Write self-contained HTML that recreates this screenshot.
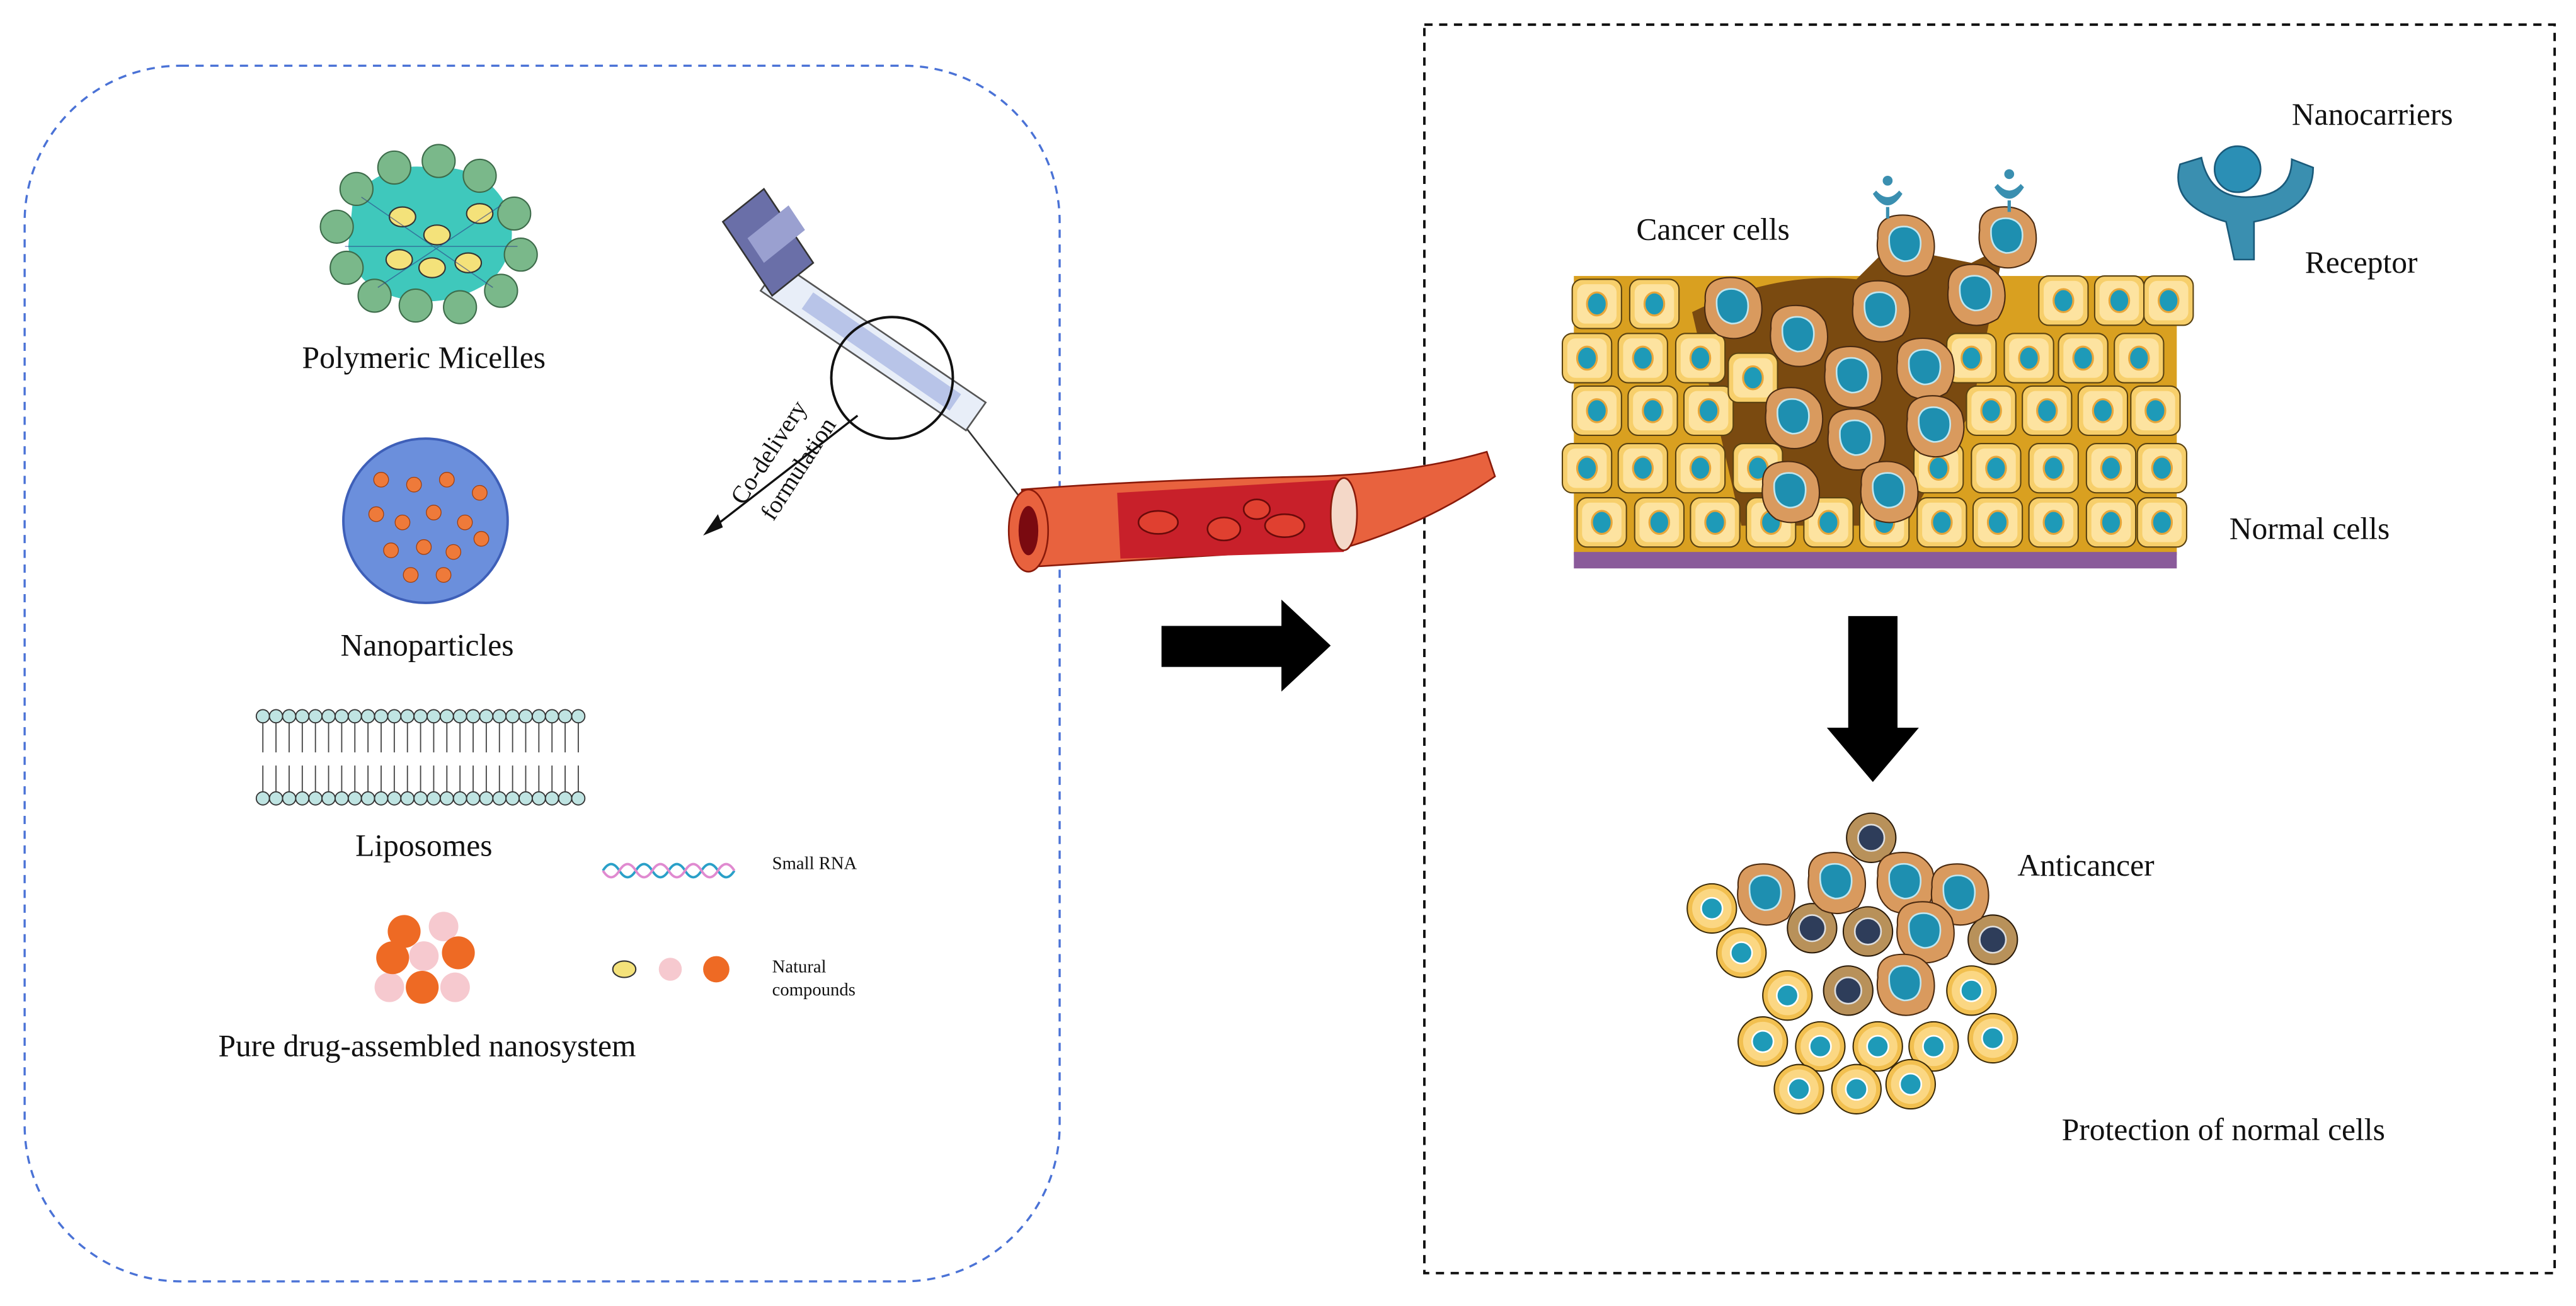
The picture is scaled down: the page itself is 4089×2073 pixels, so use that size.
<!DOCTYPE html>
<html><head><meta charset="utf-8"><style>
html,body{margin:0;padding:0;background:#fff;}
svg{display:block}
text{font-family:"Liberation Serif",serif;fill:#111}
</style></head><body>
<svg width="4089" height="2073" viewBox="0 0 1568 795" preserveAspectRatio="none" xmlns="http://www.w3.org/2000/svg">
<defs>
<g id="yc"><rect x="-15" y="-15" width="30" height="30" rx="6" fill="#f7cf6b" stroke="#5a4210" stroke-width="0.8"/><rect x="-12" y="-12" width="24" height="24" rx="5" fill="#fde3a0"/><ellipse cx="0" cy="0" rx="6" ry="7" fill="#1e9ab8" stroke="#e8a63a" stroke-width="1.2"/></g>
<g id="cc"><path d="M-17,-5 Q-18,-18 -4,-19 Q10,-20 16,-9 Q20,4 13,14 Q2,21 -9,16 Q-19,9 -17,-5Z" fill="#d99a5e" stroke="#4a2a10" stroke-width="0.8"/><path d="M-10,-6 Q-8,-13 1,-12 Q10,-10 9,0 Q8,9 -1,9 Q-11,7 -10,-6Z" fill="#1e8fb0" stroke="#bfe6f0" stroke-width="1"/></g>
<g id="rc"><circle r="15" fill="#f2c050" stroke="#3a2a08" stroke-width="0.8"/><circle r="12" fill="#fbd783"/><circle r="6.5" fill="#1e9ab8" stroke="#fff" stroke-width="1"/></g>
<g id="dc"><circle r="15" fill="#b8915a" stroke="#2a1a08" stroke-width="0.8"/><circle r="8" fill="#2e3d5a" stroke="#ddd" stroke-width="1"/></g>
</defs>
<rect x="15" y="40" width="630" height="740" rx="95" fill="none" stroke="#4a72d6" stroke-width="1.3" stroke-dasharray="5,4"/>
<rect x="867" y="15" width="688" height="760" fill="none" stroke="#111" stroke-width="1.5" stroke-dasharray="5,4"/>

<g>
<path d="M215,120 Q235,98 262,102 Q295,100 308,125 Q318,150 300,170 Q275,188 245,182 Q215,175 212,150Z" fill="#3fc8bc"/>
<g fill="#7ab88a" stroke="#3d6b4a" stroke-width="0.8">
<circle cx="240" cy="102" r="10"/><circle cx="267" cy="98" r="10"/><circle cx="292" cy="107" r="10"/><circle cx="313" cy="130" r="10"/><circle cx="317" cy="155" r="10"/><circle cx="305" cy="177" r="10"/><circle cx="280" cy="187" r="10"/><circle cx="253" cy="186" r="10"/><circle cx="228" cy="180" r="10"/><circle cx="211" cy="163" r="10"/><circle cx="205" cy="138" r="10"/><circle cx="217" cy="115" r="10"/>
</g>
<g fill="#f4e27a" stroke="#333" stroke-width="0.8">
<ellipse cx="245" cy="132" rx="8" ry="6"/><ellipse cx="292" cy="130" rx="8" ry="6"/><ellipse cx="266" cy="143" rx="8" ry="6"/><ellipse cx="243" cy="158" rx="8" ry="6"/><ellipse cx="285" cy="160" rx="8" ry="6"/><ellipse cx="263" cy="163" rx="8" ry="6"/>
</g>
<g stroke="#2b3f88" stroke-width="0.6" fill="none" opacity="0.6"><path d="M220,120 L300,175 M230,175 L305,125 M210,150 L315,150"/></g>
</g>
<text x="258" y="224" font-size="19" text-anchor="middle">Polymeric Micelles</text>

<circle cx="259" cy="317" r="50" fill="#6b8fdc" stroke="#3e5fb8" stroke-width="1.5"/>
<g fill="#ee7a3a" stroke="#a04010" stroke-width="0.5">
<circle cx="232" cy="292" r="4.5"/><circle cx="252" cy="295" r="4.5"/><circle cx="272" cy="292" r="4.5"/><circle cx="292" cy="300" r="4.5"/><circle cx="229" cy="313" r="4.5"/><circle cx="245" cy="318" r="4.5"/><circle cx="264" cy="312" r="4.5"/><circle cx="283" cy="318" r="4.5"/><circle cx="238" cy="335" r="4.5"/><circle cx="258" cy="333" r="4.5"/><circle cx="276" cy="336" r="4.5"/><circle cx="293" cy="328" r="4.5"/><circle cx="250" cy="350" r="4.5"/><circle cx="270" cy="350" r="4.5"/>
</g>
<text x="260" y="399" font-size="19" text-anchor="middle">Nanoparticles</text>

<g>
<g stroke="#444" stroke-width="0.7">
<path d="M160,440 V458 M168,440 V458 M176,440 V458 M184,440 V458 M192,440 V458 M200,440 V458 M208,440 V458 M216,440 V458 M224,440 V458 M232,440 V458 M240,440 V458 M248,440 V458 M256,440 V458 M264,440 V458 M272,440 V458 M280,440 V458 M288,440 V458 M296,440 V458 M304,440 V458 M312,440 V458 M320,440 V458 M328,440 V458 M336,440 V458 M344,440 V458 M352,440 V458"/>
<path d="M160,466 V482 M168,466 V482 M176,466 V482 M184,466 V482 M192,466 V482 M200,466 V482 M208,466 V482 M216,466 V482 M224,466 V482 M232,466 V482 M240,466 V482 M248,466 V482 M256,466 V482 M264,466 V482 M272,466 V482 M280,466 V482 M288,466 V482 M296,466 V482 M304,466 V482 M312,466 V482 M320,466 V482 M328,466 V482 M336,466 V482 M344,466 V482 M352,466 V482"/>
</g>
<g fill="#bfe4e2" stroke="#333" stroke-width="0.7">
<circle cx="160" cy="436" r="4"/><circle cx="168" cy="436" r="4"/><circle cx="176" cy="436" r="4"/><circle cx="184" cy="436" r="4"/><circle cx="192" cy="436" r="4"/><circle cx="200" cy="436" r="4"/><circle cx="208" cy="436" r="4"/><circle cx="216" cy="436" r="4"/><circle cx="224" cy="436" r="4"/><circle cx="232" cy="436" r="4"/><circle cx="240" cy="436" r="4"/><circle cx="248" cy="436" r="4"/><circle cx="256" cy="436" r="4"/><circle cx="264" cy="436" r="4"/><circle cx="272" cy="436" r="4"/><circle cx="280" cy="436" r="4"/><circle cx="288" cy="436" r="4"/><circle cx="296" cy="436" r="4"/><circle cx="304" cy="436" r="4"/><circle cx="312" cy="436" r="4"/><circle cx="320" cy="436" r="4"/><circle cx="328" cy="436" r="4"/><circle cx="336" cy="436" r="4"/><circle cx="344" cy="436" r="4"/><circle cx="352" cy="436" r="4"/>
<circle cx="160" cy="486" r="4"/><circle cx="168" cy="486" r="4"/><circle cx="176" cy="486" r="4"/><circle cx="184" cy="486" r="4"/><circle cx="192" cy="486" r="4"/><circle cx="200" cy="486" r="4"/><circle cx="208" cy="486" r="4"/><circle cx="216" cy="486" r="4"/><circle cx="224" cy="486" r="4"/><circle cx="232" cy="486" r="4"/><circle cx="240" cy="486" r="4"/><circle cx="248" cy="486" r="4"/><circle cx="256" cy="486" r="4"/><circle cx="264" cy="486" r="4"/><circle cx="272" cy="486" r="4"/><circle cx="280" cy="486" r="4"/><circle cx="288" cy="486" r="4"/><circle cx="296" cy="486" r="4"/><circle cx="304" cy="486" r="4"/><circle cx="312" cy="486" r="4"/><circle cx="320" cy="486" r="4"/><circle cx="328" cy="486" r="4"/><circle cx="336" cy="486" r="4"/><circle cx="344" cy="486" r="4"/><circle cx="352" cy="486" r="4"/>
</g>
</g>
<text x="258" y="521" font-size="19" text-anchor="middle">Liposomes</text>

<g stroke="none">
<circle cx="270" cy="564" r="9" fill="#f6c9cf"/><circle cx="258" cy="582" r="9" fill="#f6c9cf"/><circle cx="237" cy="601" r="9" fill="#f6c9cf"/><circle cx="277" cy="601" r="9" fill="#f6c9cf"/>
<circle cx="246" cy="567" r="10" fill="#ee6a24"/><circle cx="279" cy="580" r="10" fill="#ee6a24"/><circle cx="239" cy="583" r="10" fill="#ee6a24"/><circle cx="257" cy="601" r="10" fill="#ee6a24"/>
</g>
<text x="260" y="643" font-size="19" text-anchor="middle">Pure drug-assembled nanosystem</text>

<path d="M367,530 q5,-8 10,0 t10,0 t10,0 t10,0 t10,0 t10,0 t10,0 t10,0" fill="none" stroke="#2aa0c8" stroke-width="1.5"/>
<path d="M367,530 q5,8 10,0 t10,0 t10,0 t10,0 t10,0 t10,0 t10,0 t10,0" fill="none" stroke="#e08ad0" stroke-width="1.5"/>
<text x="470" y="529" font-size="11">Small RNA</text>
<ellipse cx="380" cy="590" rx="7" ry="5" fill="#f4e27a" stroke="#333" stroke-width="0.8"/>
<circle cx="408" cy="590" r="7" fill="#f6c9cf"/>
<circle cx="436" cy="590" r="8" fill="#ee6a24"/>
<text x="470" y="592" font-size="11">Natural</text>
<text x="470" y="606" font-size="11">compounds</text>

<g>
<line x1="580" y1="250" x2="652" y2="343" stroke="#333" stroke-width="1"/>
<path d="M475,160 L600,245 L588,262 L463,177Z" fill="#e8eef8" stroke="#555" stroke-width="1"/>
<path d="M495,178 L585,240 L578,250 L488,188Z" fill="#b8c4e8"/>
<path d="M440,135 L465,115 L495,160 L470,180Z" fill="#6a6fa8" stroke="#333" stroke-width="1"/>
<path d="M455,145 L480,125 L490,140 L465,160Z" fill="#9aa0d0"/>
<circle cx="543" cy="230" r="37" fill="none" stroke="#111" stroke-width="1.5"/>
</g>
<text transform="translate(472,278) rotate(-57)" font-size="15" text-anchor="middle">Co-delivery</text>
<text transform="translate(490,288) rotate(-57)" font-size="15" text-anchor="middle">formulation</text>
<line x1="522" y1="253" x2="433" y2="322" stroke="#111" stroke-width="1.3"/>
<path d="M428,326 L437,313 L440,321Z" fill="#111"/>

<path d="M622,298 Q700,292 800,290 Q860,288 905,275 L910,290 Q870,318 820,333 L628,345Z" fill="#e8623e" stroke="#8a1a0a" stroke-width="1"/>
<path d="M680,300 L815,292 L818,336 L682,340Z" fill="#c8202a"/>
<ellipse cx="626" cy="323" rx="12" ry="25" fill="#e8623e" stroke="#8a1a0a" stroke-width="1"/>
<ellipse cx="626" cy="323" rx="6" ry="15" fill="#7a0a10"/>
<ellipse cx="818" cy="313" rx="8" ry="22" fill="#f4d8c8" stroke="#8a1a0a"/>
<g fill="#e04030" stroke="#6a0a0a" stroke-width="1"><ellipse cx="705" cy="318" rx="12" ry="7"/><ellipse cx="745" cy="322" rx="10" ry="7"/><ellipse cx="782" cy="320" rx="12" ry="7"/><ellipse cx="765" cy="310" rx="8" ry="6"/></g>

<path d="M707,381 L780,381 L780,365 L810,393 L780,421 L780,406 L707,406Z" fill="#000"/>
<path d="M1125,375 L1155,375 L1155,443 L1168,443 L1140,476 L1112,443 L1125,443Z" fill="#000"/>

<rect x="958" y="168" width="367" height="170" fill="#d9a020"/>
<path d="M1030,190 Q1080,165 1130,170 L1150,150 L1200,160 L1220,150 L1200,250 L1160,320 L1060,320 Z" fill="#7a4a10"/>
<g>
<use href="#yc" x="972" y="185"/><use href="#yc" x="1007" y="185"/><use href="#yc" x="1256" y="183"/><use href="#yc" x="1290" y="183"/><use href="#yc" x="1320" y="183"/>
<use href="#yc" x="966" y="218"/><use href="#yc" x="1000" y="218"/><use href="#yc" x="1035" y="218"/><use href="#yc" x="1200" y="218"/><use href="#yc" x="1235" y="218"/><use href="#yc" x="1268" y="218"/><use href="#yc" x="1302" y="218"/>
<use href="#yc" x="972" y="250"/><use href="#yc" x="1006" y="250"/><use href="#yc" x="1040" y="250"/><use href="#yc" x="1212" y="250"/><use href="#yc" x="1246" y="250"/><use href="#yc" x="1280" y="250"/><use href="#yc" x="1312" y="250"/>
<use href="#yc" x="966" y="285"/><use href="#yc" x="1000" y="285"/><use href="#yc" x="1035" y="285"/><use href="#yc" x="1070" y="285"/><use href="#yc" x="1180" y="285"/><use href="#yc" x="1215" y="285"/><use href="#yc" x="1250" y="285"/><use href="#yc" x="1285" y="285"/><use href="#yc" x="1316" y="285"/>
<use href="#yc" x="975" y="318"/><use href="#yc" x="1010" y="318"/><use href="#yc" x="1044" y="318"/><use href="#yc" x="1078" y="318"/><use href="#yc" x="1113" y="318"/><use href="#yc" x="1147" y="318"/><use href="#yc" x="1182" y="318"/><use href="#yc" x="1216" y="318"/><use href="#yc" x="1250" y="318"/><use href="#yc" x="1285" y="318"/><use href="#yc" x="1316" y="318"/>
<use href="#yc" x="1067" y="230"/>
<use href="#cc" x="1055" y="188"/><use href="#cc" x="1095" y="205"/><use href="#cc" x="1145" y="190"/><use href="#cc" x="1203" y="180"/><use href="#cc" x="1160" y="150"/><use href="#cc" x="1222" y="145"/><use href="#cc" x="1172" y="225"/><use href="#cc" x="1128" y="230"/><use href="#cc" x="1092" y="255"/><use href="#cc" x="1178" y="260"/><use href="#cc" x="1130" y="268"/><use href="#cc" x="1150" y="300"/><use href="#cc" x="1090" y="300"/>
</g>
<path d="M958,336 L1325,336 L1325,346 L958,346Z" fill="#8a5a9a"/>
<g fill="#3a8fb0"><circle cx="1149" cy="110" r="3"/><path d="M1140,118 Q1149,132 1158,118 L1156,116 Q1149,124 1142,116Z"/><rect x="1148" y="126" width="2" height="7"/>
<circle cx="1223" cy="106" r="3"/><path d="M1214,114 Q1223,128 1232,114 L1230,112 Q1223,120 1216,112Z"/><rect x="1222" y="122" width="2" height="7"/></g>

<path d="M1327,100 Q1320,125 1355,135 L1360,158 L1372,158 L1372,135 Q1408,128 1408,102 L1395,97 Q1395,120 1367,120 Q1345,120 1340,96Z" fill="#3a8fb0" stroke="#1a5a7a"/>
<circle cx="1362" cy="103" r="14" fill="#2b8fb5" stroke="#1a5a7a"/>
<text x="1395" y="76" font-size="19">Nanocarriers</text>
<text x="1403" y="166" font-size="19">Receptor</text>
<text x="996" y="146" font-size="19">Cancer cells</text>
<text x="1357" y="328" font-size="19">Normal cells</text>

<g>
<use href="#rc" x="1042" y="553"/><use href="#rc" x="1060" y="580"/><use href="#rc" x="1088" y="606"/><use href="#rc" x="1073" y="634"/><use href="#rc" x="1108" y="637"/><use href="#rc" x="1143" y="637"/><use href="#rc" x="1177" y="637"/><use href="#rc" x="1213" y="632"/><use href="#rc" x="1200" y="603"/><use href="#rc" x="1095" y="663"/><use href="#rc" x="1130" y="663"/><use href="#rc" x="1163" y="660"/>
<use href="#dc" x="1125" y="603"/><use href="#dc" x="1137" y="567"/><use href="#dc" x="1139" y="510"/><use href="#dc" x="1213" y="572"/><use href="#dc" x="1103" y="565"/>
<use href="#cc" x="1075" y="545"/><use href="#cc" x="1118" y="538"/><use href="#cc" x="1160" y="538"/><use href="#cc" x="1193" y="545"/><use href="#cc" x="1172" y="568"/><use href="#cc" x="1160" y="600"/>
</g>
<text x="1228" y="533" font-size="19">Anticancer</text>
<text x="1255" y="694" font-size="19">Protection of normal cells</text>
</svg>
</body></html>
